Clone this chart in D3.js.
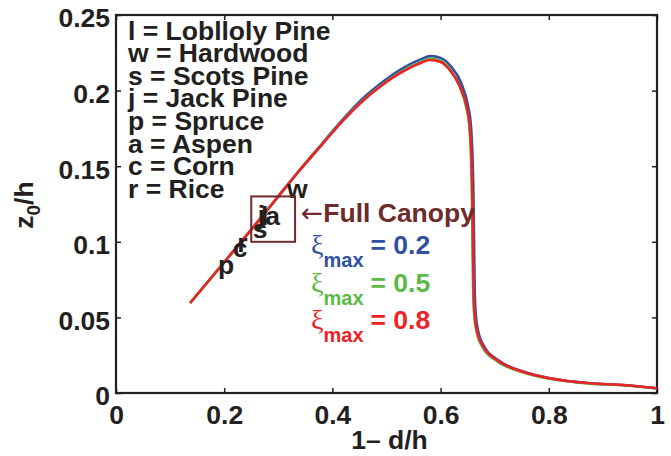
<!DOCTYPE html>
<html>
<head>
<meta charset="utf-8">
<script src="https://cdn.jsdelivr.net/npm/d3@7"></script>
<style>
  body { margin: 0; background: #fff; }
  text { font-family: "Liberation Sans", Arial, sans-serif; font-weight: bold; }
</style>
</head>
<body>
<svg id="chart" width="671" height="456"></svg>
<script>
// tick values on both axes
const xTicks = [0, 0.2, 0.4, 0.6, 0.8, 1];
const yTicks = [0, 0.05, 0.1, 0.15, 0.2, 0.25];

// z0/h against 1-d/h, one curve per xi_max
const redX = [0.137, 0.20, 0.25, 0.30, 0.34, 0.38, 0.414, 0.451, 0.488, 0.525, 0.562, 0.580, 0.599, 0.617, 0.636, 0.648, 0.654, 0.657, 0.659, 0.660, 0.661, 0.663, 0.667, 0.679, 0.704, 0.752, 0.802, 0.876, 0.937, 1.0];
const redY = [0.0595, 0.0865, 0.108, 0.130, 0.1475, 0.164, 0.1780, 0.1915, 0.2025, 0.2115, 0.2181, 0.2202, 0.2191, 0.2136, 0.2026, 0.1894, 0.1761, 0.1563, 0.125, 0.095, 0.070, 0.052, 0.0417, 0.0306, 0.0218, 0.0141, 0.0097, 0.0064, 0.0053, 0.0031];

const blueX = [0.137, 0.20, 0.25, 0.30, 0.34, 0.38, 0.414, 0.451, 0.488, 0.525, 0.562, 0.582, 0.601, 0.619, 0.638, 0.650, 0.656, 0.659, 0.661, 0.662, 0.663, 0.665, 0.669, 0.681, 0.706, 0.754, 0.803, 0.877, 0.938, 1.0];
const blueY = [0.0595, 0.0865, 0.108, 0.130, 0.1477, 0.1645, 0.1788, 0.1930, 0.2043, 0.2137, 0.2205, 0.2228, 0.2215, 0.216, 0.205, 0.191, 0.177, 0.156, 0.125, 0.095, 0.070, 0.052, 0.0417, 0.0306, 0.0218, 0.0141, 0.0097, 0.0064, 0.0053, 0.0031];

const greenX = [0.137, 0.20, 0.25, 0.30, 0.34, 0.38, 0.414, 0.451, 0.488, 0.525, 0.562, 0.580, 0.599, 0.617, 0.635, 0.647, 0.653, 0.656, 0.658, 0.659, 0.660, 0.662, 0.666, 0.678, 0.703, 0.751, 0.801, 0.875, 0.936, 1.0];
const greenY = [0.0595, 0.0865, 0.108, 0.130, 0.1475, 0.164, 0.1781, 0.1918, 0.2029, 0.2120, 0.2188, 0.2212, 0.2199, 0.2142, 0.2028, 0.1894, 0.1761, 0.1563, 0.125, 0.095, 0.070, 0.052, 0.0412, 0.0300, 0.0213, 0.0137, 0.0094, 0.0062, 0.0051, 0.0030];

// species labels placed on the line
const speciesLetters = ["p", "c", "r", "s", "j", "l", "a", "w"];
const speciesX = [0.1885, 0.216, 0.224, 0.253, 0.262, 0.268, 0.276, 0.316];
const speciesY = [0.0787, 0.0901, 0.0935, 0.1025, 0.1118, 0.1111, 0.1111, 0.129];

const legendLines = ["l = Loblloly Pine", "w = Hardwood", "s = Scots Pine", "j = Jack Pine",
                     "p = Spruce", "a = Aspen", "c = Corn", "r = Rice"];

const xiValues = ["0.2", "0.5", "0.8"];
const xiColors = ["#3050a3", "#5bb947", "#ec2227"];

// full canopy box corners
const canopyX = [0.25, 0.331];
const canopyY = [0.10, 0.13];

const margin = {top: 15, right: 14, bottom: 63, left: 116};
const width = 671 - margin.left - margin.right;
const height = 456 - margin.top - margin.bottom;
const ink = "#231f20";
const brown = "#6e2b2c";
const fs = "26.5px";

let svg = d3.select("#chart");
let g = svg.append("g").attr("transform", `translate(${margin.left},${margin.top})`);

let x = d3.scaleLinear().domain([0, 1]).range([0, width]);
let y = d3.scaleLinear().domain([0, 0.25]).range([height, 0]);

// axes, ticks pointing inward on all four sides
let fmt = d => d === 0 ? "0" : d3.format("")(+d.toFixed(2));

let xAxis = g.append("g").attr("transform", `translate(0,${height})`)
    .call(d3.axisBottom(x).tickValues(xTicks).tickSizeInner(-5).tickSizeOuter(0).tickPadding(12).tickFormat(fmt));
let yAxis = g.append("g")
    .call(d3.axisLeft(y).tickValues(yTicks).tickSizeInner(-5).tickSizeOuter(0).tickPadding(6).tickFormat(fmt));
g.append("g")
    .call(d3.axisTop(x).tickValues(xTicks).tickSizeInner(-5).tickSizeOuter(0).tickFormat(""));
g.append("g").attr("transform", `translate(${width},0)`)
    .call(d3.axisRight(y).tickValues(yTicks).tickSizeInner(-5).tickSizeOuter(0).tickFormat(""));

g.selectAll(".domain").remove();
g.selectAll(".tick line").attr("stroke", ink).attr("stroke-width", 1.5);
g.selectAll(".tick text").attr("fill", ink).style("font-size", fs)
    .style("font-family", "'Liberation Sans', Arial, sans-serif").style("font-weight", "bold");
yAxis.selectAll(".tick text").attr("dy", "0.45em");

g.append("rect").attr("width", width).attr("height", height)
    .attr("fill", "none").attr("stroke", ink).attr("stroke-width", 2.2);

// curves
let line = d3.line().x(d => x(d[0])).y(d => y(d[1])).curve(d3.curveMonotoneX);
let series = [
    {xs: blueX, ys: blueY, color: xiColors[0]},
    {xs: greenX, ys: greenY, color: xiColors[1]},
    {xs: redX, ys: redY, color: xiColors[2]}
];
series.forEach(s => {
    g.append("path")
        .datum(s.xs.map((v, i) => [v, s.ys[i]]))
        .attr("d", line)
        .attr("fill", "none")
        .attr("stroke", s.color)
        .attr("stroke-width", 2.6)
        .attr("stroke-linejoin", "round");
});

// legend of species
g.selectAll(".legend").data(legendLines).enter().append("text")
    .attr("class", "legend")
    .attr("x", 12)
    .attr("y", (d, i) => 24.5 + i * 22.6)
    .attr("fill", ink)
    .style("font-size", fs)
    .text(d => d);

// species letters on the line
g.selectAll(".species").data(speciesLetters).enter().append("text")
    .attr("class", "species")
    .attr("x", (d, i) => x(speciesX[i]))
    .attr("y", (d, i) => y(speciesY[i]))
    .attr("fill", ink)
    .style("font-size", fs)
    .text(d => d);

// full canopy box and label
g.append("rect")
    .attr("x", x(canopyX[0])).attr("y", y(canopyY[1]))
    .attr("width", x(canopyX[1]) - x(canopyX[0]))
    .attr("height", y(canopyY[0]) - y(canopyY[1]))
    .attr("fill", "none").attr("stroke", brown).attr("stroke-width", 2);

let canopy = g.append("text")
    .attr("x", x(canopyX[1]) + 6).attr("y", 207)
    .attr("fill", brown)
    .style("font-size", fs);
canopy.append("tspan").style("font-family", "'DejaVu Sans', sans-serif").style("font-weight", "normal").text("\u2190");
canopy.append("tspan").text("Full Canopy");

// xi_max legend
xiValues.forEach((v, i) => {
    let t = g.append("text")
        .attr("x", 195).attr("y", 239 + i * 37.5)
        .attr("fill", xiColors[i])
        .style("font-size", fs);
    t.append("tspan").style("font-family", "'Liberation Serif', 'Times New Roman', serif")
        .style("font-weight", "normal").style("font-size", "28px").text("\u03be");
    t.append("tspan").attr("dy", 13).style("font-size", "20px").text("max");
    t.append("tspan").attr("dy", -13).attr("dx", 7).text("= " + v);
});

// axis titles
svg.append("text")
    .attr("x", margin.left + width / 2 + 3).attr("y", 449)
    .attr("text-anchor", "middle").attr("fill", ink)
    .style("font-size", fs)
    .text("1\u2013 d/h");

let yTitle = svg.append("text")
    .attr("transform", "translate(33,205) rotate(-90)")
    .attr("text-anchor", "middle").attr("fill", ink)
    .style("font-size", fs);
yTitle.append("tspan").text("z");
yTitle.append("tspan").attr("dy", 7).style("font-size", "19px").text("0");
yTitle.append("tspan").attr("dy", -7).text("/h");
</script>
</body>
</html>
